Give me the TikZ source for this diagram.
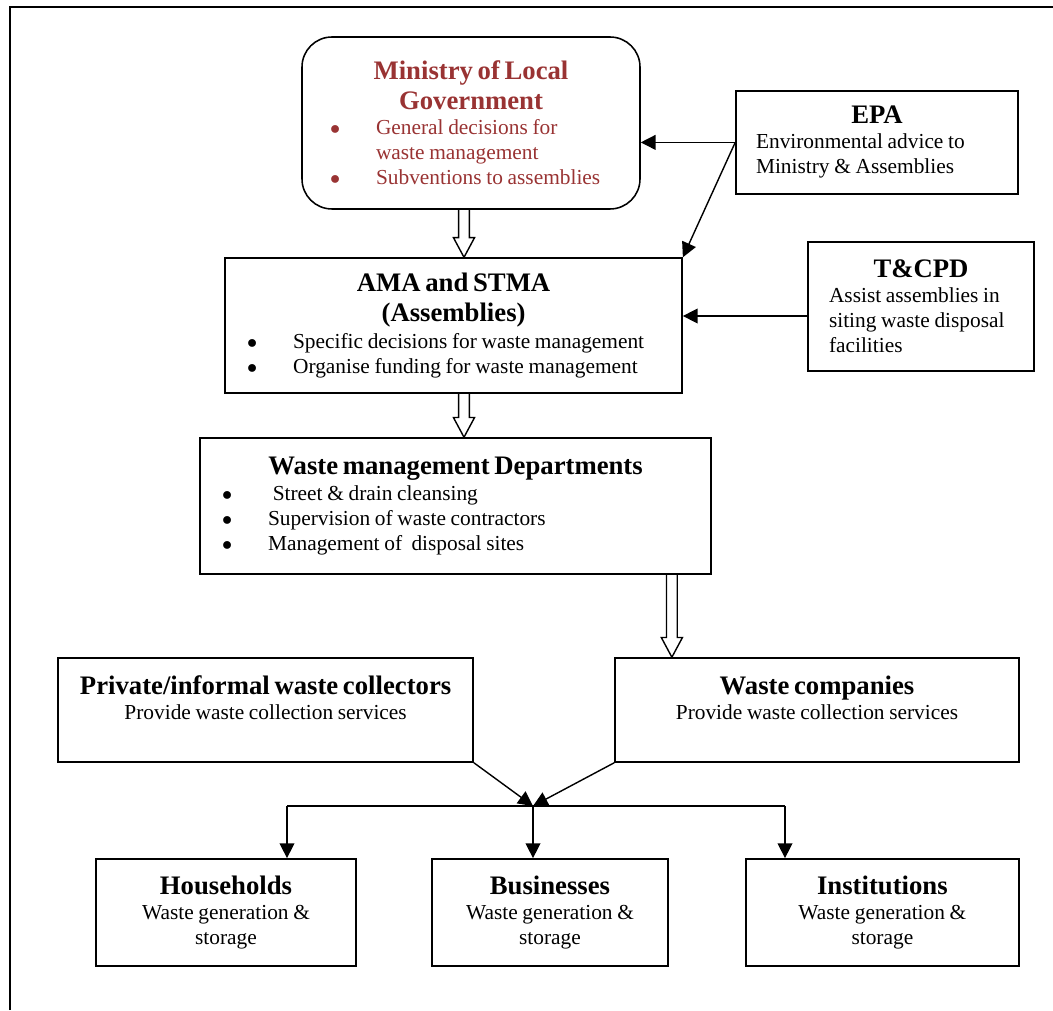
\documentclass[tikz,border=0pt]{standalone}
\usepackage{fontspec}
\setmainfont{Liberation Serif}
\usetikzlibrary{arrows.meta,calc}
\definecolor{mlgred}{RGB}{153,51,51}
\newcommand{\hd}{\fontsize{19}{21.3}\selectfont\bfseries}
\newcommand{\bd}{\fontsize{15.2}{17.8}\selectfont}
\newcommand{\bitem}{\par\hangindent=1.15cm\hangafter=1\noindent\makebox[1.15cm][l]{$\bullet$}}

\begin{document}
\begin{tikzpicture}[
	box/.style={draw, line width=1.1pt, inner ysep=0pt, align=left},
	cbox/.style={box, align=center, inner xsep=0.3cm},
	arr/.style={line width=1pt, -{Triangle[length=10.5pt,width=10.5pt]}},
	hollow/.style={line width=1pt, to path={let \p1=(\tikztostart), \p2=(\tikztotarget) in
		(\x1-3.8pt,\y1) -- (\x1-3.8pt,\y2+14pt) -- (\x1-7.5pt,\y2+14pt) -- (\x1,\y2)
		-- (\x1+7.5pt,\y2+14pt) -- (\x1+3.8pt,\y2+14pt) -- (\x1+3.8pt,\y1)}}
]
	\useasboundingbox (0,0) rectangle (26.325,25.25);
	\draw [line width=1.3pt] (0.25,0) -- (0.25,25.075) -- (26.325,25.075);

	\node at (11.775,22.175) [box, rounded corners=0.75cm, text=mlgred, minimum width=8.45cm, minimum height=4.3cm, inner xsep=0.7cm, text width=7.05cm] (mlg) {{\centering\hd Ministry of Local\\Government\par}\bd
		\bitem General decisions for\newline waste management
		\bitem Subventions to assemblies\par};
	\node at (21.925,21.69) [box, minimum width=7.05cm, minimum height=2.575cm, inner xsep=0.5cm, text width=6.05cm] (epa) {{\centering\hd EPA\par}\bd
		Environmental advice to\newline Ministry \& Assemblies\par};
	\node at (11.34,17.11) [box, minimum width=11.425cm, minimum height=3.375cm, inner xsep=0.55cm, text width=10.325cm] (ama) {{\centering\hd AMA and STMA\\(Assemblies)\par}\vspace{2pt}\bd
		\bitem Specific decisions for waste management
		\bitem Organise funding for waste management\par};
	\node at (23.025,17.59) [box, minimum width=5.65cm, minimum height=3.225cm, inner xsep=0.525cm, text width=4.6cm] (tcpd) {{\centering\hd T\&CPD\par}\bd
		Assist assemblies in\newline siting waste disposal\newline facilities\par};
	\node at (11.39,12.6) [box, minimum width=12.775cm, minimum height=3.4cm, inner xsep=0.55cm, text width=11.675cm] (wmd) {{\centering\hd Waste management Departments\par}\vspace{1pt}\bd
		\bitem\ Street \& drain cleansing
		\bitem Supervision of waste contractors
		\bitem Management of~ disposal sites\par};
	\node at (6.64,7.5) [cbox, minimum width=10.375cm, minimum height=2.6cm, text width=9.775cm] (priv) {{\hd Private/informal waste collectors\par}\bd
		Provide waste collection services\par\mbox{}\par};
	\node at (20.425,7.5) [cbox, minimum width=10.1cm, minimum height=2.6cm, text width=9.5cm] (wc) {{\hd Waste companies\par}\bd
		Provide waste collection services\par\mbox{}\par};
	\node at (5.65,2.44) [cbox, minimum width=6.5cm, minimum height=2.675cm, text width=5.9cm] (hh) {{\hd Households\par}\bd
		Waste generation \&\\storage\par};
	\node at (13.75,2.44) [cbox, minimum width=5.9cm, minimum height=2.675cm, text width=5.3cm] (bus) {{\hd Businesses\par}\bd
		Waste generation \&\\storage\par};
	\node at (22.06,2.44) [cbox, minimum width=6.825cm, minimum height=2.675cm, text width=6.225cm] (inst) {{\hd Institutions\par}\bd
		Waste generation \&\\storage\par};

	\coordinate (hub) at (13.325,5.1);
	\coordinate (jl) at (7.175,5.1);
	\coordinate (jr) at (19.625,5.1);
	\coordinate (tin) at ([yshift=-0.24cm]tcpd.west);

	\draw [hollow] ([xshift=-0.175cm]mlg.south) to (ama.north);
	\draw [hollow] ([xshift=0.26cm]ama.south) to (wmd.north);
	\draw [hollow] ([xshift=-1cm]wmd.south east) to (wc.north);
	\draw [arr] (epa.west) -- (epa.west -| mlg.east);
	\draw [arr] (epa.west) -- (ama.north east);
	\draw [arr] (tin) -- (tin -| ama.east);
	\draw [arr] (priv.south east) -- (hub);
	\draw [arr] (wc.south west) -- (hub);
	\draw [line width=1pt] (jl) -- (jr);
	\draw [arr] (jl) -- (jl |- hh.north);
	\draw [arr] (hub) -- (hub |- bus.north);
	\draw [arr] (jr) -- (jr |- inst.north);
\end{tikzpicture}
\end{document}
